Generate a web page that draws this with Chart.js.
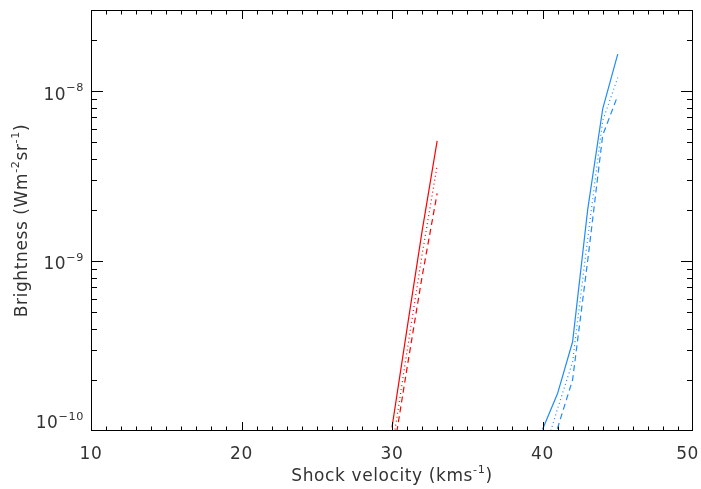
<!DOCTYPE html>
<html>
<head>
<meta charset="utf-8">
<script src="https://cdn.jsdelivr.net/npm/chart.js@4/dist/chart.umd.min.js"></script>
<style>
  body { margin: 0; background: #fff; }
  #wrap { width: 701px; height: 489px; }
</style>
</head>
<body>
<div id="wrap"><canvas id="shockChart" width="701" height="489"></canvas></div>
<script>
// velocities (km/s) and brightness (W m^-2 sr^-1)
const redVelocity = [30, 31, 32, 33];
const redSolid = [1.05e-10, 4.0e-10, 1.5e-9, 5.1e-9];
const redDotted = [7.8e-11, 2.95e-10, 1.09e-9, 3.65e-9];
const redDashed = [6.6e-11, 2.35e-10, 8.1e-10, 2.5e-9];

const blueVelocity = [40, 41, 42, 43, 44, 45];
const blueSolid = [1.02e-10, 1.66e-10, 3.35e-10, 2.0e-9, 7.85e-9, 1.65e-8];
const blueDotted = [7.0e-11, 1.35e-10, 2.55e-10, 1.35e-9, 6.7e-9, 1.2e-8];
const blueDashed = [5.4e-11, 1.04e-10, 2.0e-10, 1.0e-9, 5.5e-9, 9.4e-9];

// axis ticks
const xMajorTicks = [10, 20, 30, 40, 50];
const yMajorTicks = [1e-10, 1e-9, 1e-8];
const yTickExponents = ['\u221210', '\u22129', '\u22128'];

const RED = '#ff0000';
const BLUE = '#1e8cff';
const FONT = '"DejaVu Sans", sans-serif';
const SIZE = 17;

function toPoints(xs, ys) {
    return xs.map((x, i) => ({ x: x, y: ys[i] }));
}

function line(xs, ys, color, dash) {
    return {
        data: toPoints(xs, ys),
        borderColor: color,
        borderWidth: 1.2,
        borderDash: dash,
        pointRadius: 0,
        fill: false,
        tension: 0
    };
}

// draws a run of text parts, some as superscripts, starting at x
function drawParts(ctx, parts, x, y, size) {
    parts.forEach(p => {
        const s = p.sup ? size * 0.66 : size;
        ctx.font = s + 'px ' + FONT;
        ctx.fillText(p.t, x, p.sup ? y - size * 0.42 : y);
        x += ctx.measureText(p.t).width;
    });
    return x;
}

function partsWidth(ctx, parts, size) {
    let w = 0;
    parts.forEach(p => {
        ctx.font = (p.sup ? size * 0.66 : size) + 'px ' + FONT;
        w += ctx.measureText(p.t).width;
    });
    return w;
}

const idlAxes = {
    id: 'idlAxes',
    afterDraw(chart) {
        const ctx = chart.ctx;
        const a = chart.chartArea;
        const xs = chart.scales.x;
        const ys = chart.scales.y;
        ctx.save();
        ctx.strokeStyle = '#000';
        ctx.lineWidth = 1;
        ctx.strokeRect(a.left + 0.5, a.top + 0.5, a.right - a.left - 1, a.bottom - a.top - 1);

        ctx.beginPath();
        // x ticks, every unit, longer at the labelled ones
        for (let v = xs.min + 1; v < xs.max; v++) {
            const px = Math.round(xs.getPixelForValue(v)) + 0.5;
            const len = xMajorTicks.includes(v) ? 9 : 4.5;
            ctx.moveTo(px, a.bottom); ctx.lineTo(px, a.bottom - len);
            ctx.moveTo(px, a.top); ctx.lineTo(px, a.top + len);
        }
        // y ticks, log decades with 2..9 minors
        for (let d = -10; d <= -8; d++) {
            for (let m = 1; m <= 9; m++) {
                const v = m * Math.pow(10, d);
                if (v <= ys.min * 1.001 || v > ys.max * 0.999) continue;
                const py = Math.round(ys.getPixelForValue(v)) + 0.5;
                const len = m === 1 ? 12 : 6;
                ctx.moveTo(a.left, py); ctx.lineTo(a.left + len, py);
                ctx.moveTo(a.right, py); ctx.lineTo(a.right - len, py);
            }
        }
        ctx.stroke();

        ctx.fillStyle = '#333';
        ctx.textBaseline = 'middle';
        ctx.letterSpacing = '0.6px';
        // x tick labels
        ctx.font = SIZE + 'px ' + FONT;
        ctx.textAlign = 'center';
        xMajorTicks.forEach(v => {
            const w = ctx.measureText(String(v)).width;
            const px = Math.min(xs.getPixelForValue(v), chart.width - w / 2 - 2);
            ctx.fillText(String(v), px, a.bottom + 24);
        });
        // y tick labels as 10 with superscript exponent
        ctx.textAlign = 'left';
        yMajorTicks.forEach((v, i) => {
            const parts = [{ t: '10' }, { t: yTickExponents[i], sup: true }];
            const w = partsWidth(ctx, parts, SIZE);
            const py = Math.min(ys.getPixelForValue(v) + 4, a.bottom - 7);
            drawParts(ctx, parts, a.left - 7 - w, py, SIZE);
        });

        // axis titles
        const xTitle = [{ t: 'Shock velocity (kms' }, { t: '-1', sup: true }, { t: ')' }];
        const xw = partsWidth(ctx, xTitle, SIZE);
        drawParts(ctx, xTitle, (a.left + a.right) / 2 - xw / 2, a.bottom + 46, SIZE);

        const yTitle = [{ t: 'Brightness (Wm' }, { t: '-2', sup: true }, { t: 'sr' }, { t: '-1', sup: true }, { t: ')' }];
        const yw = partsWidth(ctx, yTitle, SIZE);
        ctx.translate(23, (a.top + a.bottom) / 2);
        ctx.rotate(-Math.PI / 2);
        drawParts(ctx, yTitle, -yw / 2, 0, SIZE);
        ctx.restore();
    }
};

const chart = new Chart(document.getElementById('shockChart'), {
    type: 'line',
    data: {
        datasets: [
            line(redVelocity, redSolid, RED, []),
            line(redVelocity, redDotted, RED, [1, 3]),
            line(redVelocity, redDashed, RED, [6, 4]),
            line(blueVelocity, blueSolid, BLUE, []),
            line(blueVelocity, blueDotted, BLUE, [1, 3]),
            line(blueVelocity, blueDashed, BLUE, [6, 4])
        ]
    },
    options: {
        responsive: false,
        animation: false,
        layout: { padding: { left: 91, right: 8, top: 10, bottom: 58 } },
        plugins: { legend: { display: false }, tooltip: { enabled: false } },
        scales: {
            x: { type: 'linear', min: 10, max: 50, display: false },
            y: { type: 'logarithmic', min: 1e-10, max: 3e-8, display: false }
        }
    },
    plugins: [idlAxes]
});
</script>
</body>
</html>
